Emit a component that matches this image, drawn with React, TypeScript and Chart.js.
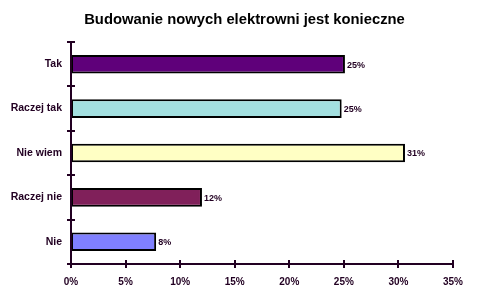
import React, { useEffect, useRef } from "react";
import { Chart, registerables } from "chart.js";

Chart.register(...registerables);

const TITLE = "Budowanie nowych elektrowni jest konieczne";
const categories = ["Tak", "Raczej tak", "Nie wiem", "Raczej nie", "Nie"];
const values = [25.1, 24.8, 30.6, 12.0, 7.8];
const barColors = ["#5F007A", "#A3E0E0", "#FFFFC4", "#80205A", "#8080FF"];
const xMax = 35;
const xStep = 5;

const INK = "#220022";
const FAMILY = "'Liberation Sans', Arial, sans-serif";

const decorPlugin = {
  id: "decor",
  afterDatasetsDraw(chart: any) {
    const ctx = chart.ctx;
    const xs = chart.scales.x;
    const ys = chart.scales.y;
    const area = chart.chartArea;
    ctx.save();
    // title centered on the whole canvas
    ctx.fillStyle = "#000000";
    ctx.font = "bold 14.8px " + FAMILY;
    ctx.textAlign = "center";
    ctx.textBaseline = "middle";
    ctx.fillText(TITLE, chart.width / 2, 20);

    ctx.strokeStyle = INK;
    ctx.lineWidth = 2;
    ctx.beginPath();
    ctx.moveTo(area.left, area.top);
    ctx.lineTo(area.left, area.bottom);
    ctx.moveTo(area.left, area.bottom);
    ctx.lineTo(area.right, area.bottom);
    ctx.stroke();
    ctx.beginPath();
    xs.ticks.forEach((t: any) => {
      const px = Math.round(xs.getPixelForValue(t.value));
      ctx.moveTo(px, area.bottom - 4);
      ctx.lineTo(px, area.bottom + 4);
    });
    const n = categories.length;
    for (let i = 0; i <= n; i++) {
      const py = Math.round(ys.top + (i * (ys.bottom - ys.top)) / n);
      ctx.moveTo(area.left - 4, py);
      ctx.lineTo(area.left + 4, py);
    }
    ctx.stroke();
    ctx.fillStyle = INK;
    ctx.font = "bold 9px " + FAMILY;
    ctx.textBaseline = "middle";
    ctx.textAlign = "left";
    const meta = chart.getDatasetMeta(0);
    meta.data.forEach((bar: any, i: number) => {
      ctx.fillText(Math.round(values[i]) + "%", bar.x + 2, bar.y + 1);
    });
    ctx.restore();
  },
};

export default function App() {
  const ref = useRef<HTMLCanvasElement | null>(null);
  useEffect(() => {
    document.body.style.margin = "0";
    const canvas = ref.current!;
    const chart = new Chart(canvas, {
      type: "bar",
      data: {
        labels: categories,
        datasets: [
          {
            data: values,
            backgroundColor: barColors,
            borderColor: "#000000",
            borderWidth: 2,
            borderSkipped: false,
            barPercentage: 0.42,
            categoryPercentage: 1,
          },
        ],
      },
      options: {
        indexAxis: "y",
        animation: false,
        responsive: false,
        maintainAspectRatio: false,
        layout: { padding: { left: 0, right: 36, top: 42, bottom: 0 } },
        plugins: {
          legend: { display: false },
          tooltip: { enabled: false },
          title: { display: false },
        },
        scales: {
          x: {
            min: 0,
            max: xMax,
            ticks: {
              stepSize: xStep,
              color: INK,
              padding: 12,
              font: { family: FAMILY, size: 10, weight: "bold" },
              callback: (v: any) => v + "%",
            },
            grid: { display: false, drawTicks: false },
            border: { display: false },
          },
          y: {
            ticks: {
              color: INK,
              padding: 9,
              font: { family: FAMILY, size: 10.5, weight: "bold" },
            },
            grid: { display: false, drawTicks: false },
            border: { display: false },
            afterFit: (s: any) => {
              s.width = 71;
            },
          },
        },
      },
      plugins: [decorPlugin],
    });
    return () => chart.destroy();
  }, []);
  return <canvas ref={ref} width={489} height={300} style={{ display: "block" }} />;
}
